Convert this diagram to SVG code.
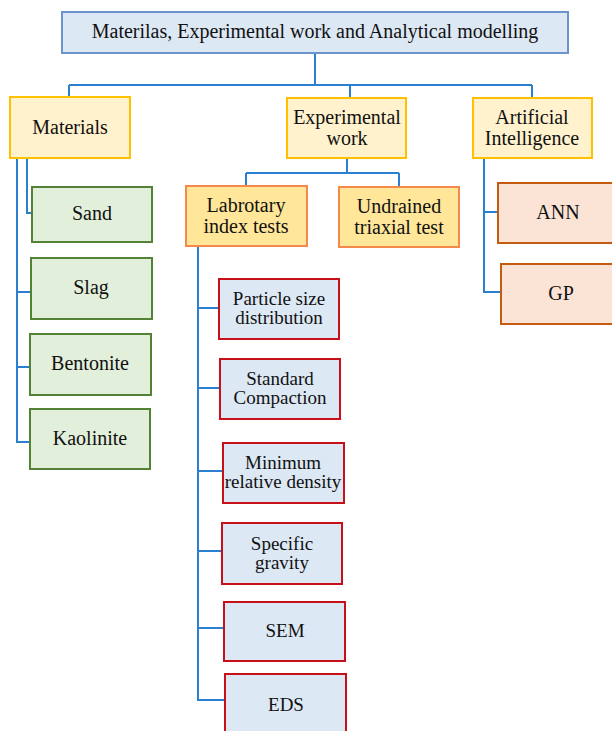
<svg xmlns="http://www.w3.org/2000/svg" width="612" height="731" viewBox="0 0 612 731">
  <style>
    .bg { fill: #ffffff; }
    .link { fill: none; stroke: #2a7fd0; stroke-width: 2; }
    .top { fill: #dde8f5; stroke: #6d93cf; stroke-width: 2; }
    .cat { fill: #fff2cc; stroke: #ffc000; stroke-width: 2; }
    .mat { fill: #e2efda; stroke: #548235; stroke-width: 2; }
    .exp { fill: #ffe699; stroke: #f4894b; stroke-width: 2; }
    .lab { fill: #dde8f5; stroke: #c8101a; stroke-width: 2; }
    .ai { fill: #fbe4d5; stroke: #c55a11; stroke-width: 2; }
    text { font-family: "Liberation Serif", "Times New Roman", serif; font-size: 20px; fill: #111111; text-anchor: middle; }
    .sm { font-size: 19px; }
  </style>
  <rect class="bg" x="0" y="0" width="612" height="731"/>

  <!-- connectors -->
  <g id="connectors">
    <path class="link" d="M315,53 V85 M69,85 H532 M69,85 V97 M350,85 V98 M532,85 V98"/>
    <path class="link" d="M17,158 V442 H30 M17,292 H31 M17,367 H30 M27,158 V213 H32"/>
    <path class="link" d="M347,158 V173 M246,173 H399 M246,173 V186 M399,173 V187"/>
    <path class="link" d="M198,246 V700 H225 M198,308 H219 M198,388 H220 M198,471 H223 M198,551 H222 M198,628 H224"/>
    <path class="link" d="M484,158 V292 H501 M484,212 H498"/>
  </g>

  <!-- root -->
  <g id="root">
    <rect class="top" x="62" y="12" width="506" height="41"/>
    <text x="315" y="38">Materilas, Experimental work and Analytical modelling</text>
  </g>

  <!-- second level -->
  <g id="materials">
    <rect class="cat" x="10" y="97" width="120" height="61"/>
    <text x="70" y="134">Materials</text>
  </g>
  <g id="experimental">
    <rect class="cat" x="287" y="98" width="119" height="60"/>
    <text x="347" y="124">Experimental</text>
    <text x="347" y="145">work</text>
  </g>
  <g id="ai">
    <rect class="cat" x="473" y="98" width="119" height="60"/>
    <text x="532" y="124">Artificial</text>
    <text x="532" y="145">Intelligence</text>
  </g>

  <!-- materials -->
  <g id="sand">
    <rect class="mat" x="32" y="187" width="120" height="55"/>
    <text x="92" y="220">Sand</text>
  </g>
  <g id="slag">
    <rect class="mat" x="31" y="258" width="121" height="61"/>
    <text x="91" y="294">Slag</text>
  </g>
  <g id="bentonite">
    <rect class="mat" x="30" y="334" width="121" height="61"/>
    <text x="90" y="370">Bentonite</text>
  </g>
  <g id="kaolinite">
    <rect class="mat" x="30" y="409" width="120" height="60"/>
    <text x="90" y="445">Kaolinite</text>
  </g>

  <!-- experimental work -->
  <g id="labtests">
    <rect class="exp" x="186" y="186" width="121" height="60"/>
    <text x="246" y="212">Labrotary</text>
    <text x="246" y="233">index tests</text>
  </g>
  <g id="triaxial">
    <rect class="exp" x="339" y="187" width="120" height="60"/>
    <text x="399" y="213">Undrained</text>
    <text x="399" y="234">triaxial test</text>
  </g>

  <!-- laboratory index tests -->
  <g id="psd">
    <rect class="lab" x="219" y="279" width="120" height="60"/>
    <text class="sm" x="279" y="305">Particle size</text>
    <text class="sm" x="279" y="324">distribution</text>
  </g>
  <g id="compaction">
    <rect class="lab" x="220" y="359" width="120" height="60"/>
    <text class="sm" x="280" y="385">Standard</text>
    <text class="sm" x="280" y="404">Compaction</text>
  </g>
  <g id="density">
    <rect class="lab" x="223" y="443" width="121" height="60"/>
    <text class="sm" x="283" y="469">Minimum</text>
    <text class="sm" x="283" y="488">relative density</text>
  </g>
  <g id="gravity">
    <rect class="lab" x="222" y="523" width="120" height="61"/>
    <text class="sm" x="282" y="550">Specific</text>
    <text class="sm" x="282" y="569">gravity</text>
  </g>
  <g id="sem">
    <rect class="lab" x="224" y="602" width="121" height="59"/>
    <text class="sm" x="285" y="637">SEM</text>
  </g>
  <g id="eds">
    <rect class="lab" x="225" y="674" width="121" height="62"/>
    <text class="sm" x="286" y="711">EDS</text>
  </g>

  <!-- artificial intelligence -->
  <g id="ann">
    <rect class="ai" x="498" y="183" width="120" height="60"/>
    <text x="558" y="219">ANN</text>
  </g>
  <g id="gp">
    <rect class="ai" x="501" y="264" width="120" height="60"/>
    <text x="561" y="300">GP</text>
  </g>
</svg>
